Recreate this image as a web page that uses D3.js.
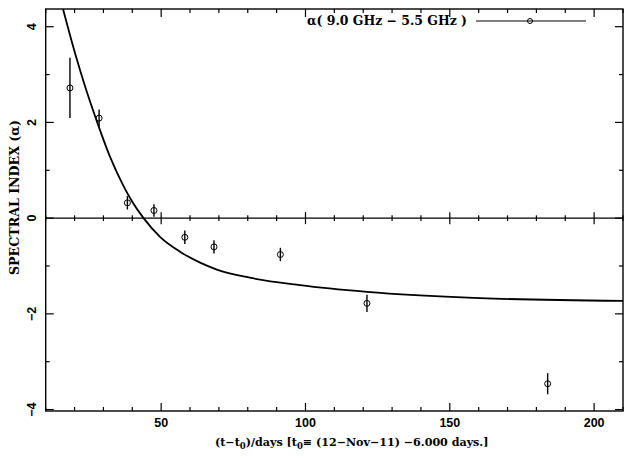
<!DOCTYPE html>
<html><head><meta charset="utf-8">
<script src="https://cdn.jsdelivr.net/npm/d3@7"></script>
<style>
body{margin:0;background:#fff;}
svg{display:block;}
.lab{font-family:"DejaVu Serif",serif;font-weight:bold;font-size:12.5px;}
.xl{font-family:"DejaVu Serif",serif;font-weight:bold;font-size:11.1px;}
.tk{font-family:"Liberation Sans",Arial,sans-serif;font-weight:bold;font-size:12.5px;}
</style>
</head><body>
<script>
// Observations
const days   = [18.4, 28.5, 38.3, 47.5, 58.2, 68.3, 91.3, 121.3, 183.9];
const alpha  = [2.72, 2.09, 0.32, 0.16, -0.40, -0.60, -0.76, -1.78, -3.46];
const alphaErr = [0.63, 0.18, 0.14, 0.13, 0.14, 0.14, 0.14, 0.18, 0.22];
// Model curve
const curveDays  = [16.0, 20.15, 23.6, 27.4, 32.3, 36.8, 40.2, 43.9, 49.6, 56.5, 63.5, 69.3, 80.7, 98.1, 121.3, 160.4, 210.0];
const curveAlpha = [4.37, 3.45, 2.76, 2.08, 1.28, 0.69, 0.32, 0.00, -0.39, -0.70, -0.93, -1.075, -1.245, -1.40, -1.54, -1.67, -1.73];
const xMajor = [50, 100, 150, 200];
const yMajor = [-4, -2, 0, 2, 4];
const legendText = "α( 9.0 GHz − 5.5 GHz )";

const W = 624, H = 458;
const L = 45.7, R = 623, T = 9, B = 411;
const x = d3.scaleLinear().domain([10, 210]).range([L, R]);
const y = d3.scaleLinear().domain([-4.03, 4.37]).range([B, T]);

const svg = d3.select("body").append("svg").attr("width", W).attr("height", H);

svg.append("defs").append("clipPath").attr("id","clip")
  .append("rect").attr("x",L).attr("y",T).attr("width",R-L).attr("height",B-T);

const g = svg.append("g");
const minorX = d3.range(10, 211, 10);
const minorY = d3.range(-4, 5, 1);

minorX.forEach(v=>{
  const maj = v % 50 === 0;
  const len = maj ? 8 : 4;
  g.append("line").attr("x1",x(v)).attr("x2",x(v)).attr("y1",B).attr("y2",B-len).attr("stroke","#000").attr("stroke-width",1.2);
  g.append("line").attr("x1",x(v)).attr("x2",x(v)).attr("y1",T).attr("y2",T+len).attr("stroke","#000").attr("stroke-width",1.2);
  const zl = maj ? 6 : 2.8;
  g.append("line").attr("x1",x(v)).attr("x2",x(v)).attr("y1",y(0)-zl).attr("y2",y(0)+zl).attr("stroke","#000").attr("stroke-width",1.2);
});
minorY.forEach(v=>{
  const maj = v % 2 === 0;
  const len = maj ? 8 : 4;
  g.append("line").attr("x1",L).attr("x2",L+len).attr("y1",y(v)).attr("y2",y(v)).attr("stroke","#000").attr("stroke-width",1.2);
  g.append("line").attr("x1",R).attr("x2",R-len).attr("y1",y(v)).attr("y2",y(v)).attr("stroke","#000").attr("stroke-width",1.2);
});

// frame
g.append("rect").attr("x",L).attr("y",T).attr("width",R-L).attr("height",B-T)
  .attr("fill","none").attr("stroke","#000").attr("stroke-width",1.4);
// zero line
g.append("line").attr("x1",L).attr("x2",R).attr("y1",y(0)).attr("y2",y(0)).attr("stroke","#000").attr("stroke-width",1.4);

// tick labels
svg.append("g").selectAll("text").data(xMajor).join("text")
  .attr("class","tk").attr("x",d=>x(d)).attr("y",427).attr("text-anchor","middle").text(d=>d);
svg.append("g").selectAll("text").data(yMajor).join("text")
  .attr("class","tk").attr("text-anchor","middle")
  .attr("transform",d=>`translate(36,${y(d)}) rotate(-90)`)
  .text(d=> d<0 ? "−"+Math.abs(d) : d);

// curve
const pts = curveDays.map((d,i)=>[d, curveAlpha[i]]);
svg.append("path").attr("clip-path","url(#clip)")
  .attr("d", d3.line().x(d=>x(d[0])).y(d=>y(d[1])).curve(d3.curveMonotoneX)(pts))
  .attr("fill","none").attr("stroke","#000").attr("stroke-width",1.8);

// points
const pg = svg.append("g");
days.forEach((d,i)=>{
  pg.append("line").attr("x1",x(d)).attr("x2",x(d))
    .attr("y1",y(alpha[i]+alphaErr[i])).attr("y2",y(alpha[i]-alphaErr[i]))
    .attr("stroke","#000").attr("stroke-width",1.4);
  pg.append("circle").attr("cx",x(d)).attr("cy",y(alpha[i])).attr("r",3)
    .attr("fill","none").attr("stroke","#000").attr("stroke-width",1);
});

// legend
svg.append("text").attr("class","lab").attr("x",307).attr("y",25)
  .attr("textLength",160).attr("lengthAdjust","spacingAndGlyphs").text(legendText);
svg.append("line").attr("x1",476).attr("x2",586).attr("y1",21).attr("y2",21).attr("stroke","#000").attr("stroke-width",1.2);
svg.append("circle").attr("cx",530).attr("cy",21).attr("r",2.5).attr("fill","none").attr("stroke","#000").attr("stroke-width",1);

// y label
svg.append("text").attr("class","lab").attr("text-anchor","middle")
  .attr("textLength",155).attr("lengthAdjust","spacingAndGlyphs")
  .attr("transform","translate(19,197.5) rotate(-90)").text("SPECTRAL INDEX (α)");

// x label
const xl = svg.append("text").attr("class","xl").attr("x",215).attr("y",446);
xl.append("tspan").text("(t−t");
xl.append("tspan").attr("font-size","8.5px").attr("dy",3).text("0");
xl.append("tspan").attr("dy",-3).text(")/days [t");
xl.append("tspan").attr("font-size","8.5px").attr("dy",3).text("0");
xl.append("tspan").attr("dy",-3).text("≡ (12−Nov−11) −6.000 days.]");
</script>
</body></html>
